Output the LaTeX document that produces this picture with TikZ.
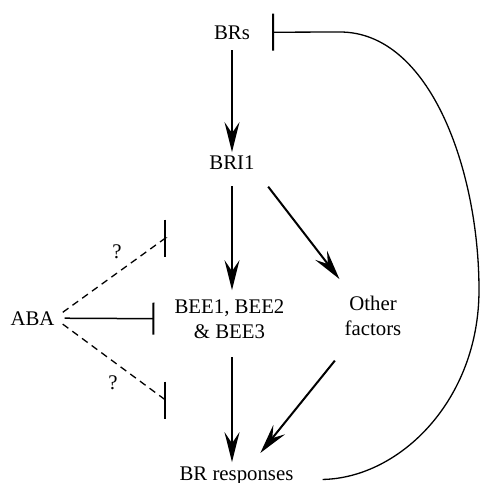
\documentclass[tikz,border=0pt]{standalone}
\usepackage{fontspec}
\setmainfont{Liberation Serif}
\usetikzlibrary{arrows.meta}

\begin{document}
\begin{tikzpicture}[x=1pt,y=-1pt]
  \tikzset{every node/.style={inner sep=0pt,font=\fontsize{20.8}{25}\selectfont},
    act/.style={line width=2pt,-{Stealth[length=30pt,width=15pt,inset=11pt]}},
    inhib/.style={line width=1.5pt,-{Bar[width=32pt,line width=2pt]}},
    maybe/.style={line width=1.3pt,dash pattern=on 7pt off 5pt,-{Bar[width=37pt,line width=2pt]}}}
  \useasboundingbox (0,0) rectangle (480,483);
  \node[anchor=base] (brs) at (232,39) {BRs};
  \node[anchor=base] (bri1) at (232,169) {BRI1};
  \node[align=center] (bee) at (229.5,318.8) {BEE1, BEE2\\\& BEE3};
  \node[align=center] (other) at (373,315.7) {Other\\factors};
  \node[anchor=base] (aba) at (32.5,325) {ABA};
  \node[anchor=base] (resp) at (236.5,480) {BR responses};
  \node (qup) at (117,252) {?};
  \node (qdown) at (113,383) {?};
  \coordinate (up) at (166,238);
  \coordinate (down) at (166,400);
  \draw[act,shorten <=11pt,shorten >=3pt] (brs) -- (bri1);
  \draw[act,shorten <=17pt,shorten >=9pt] (bri1) -- (bri1 |- bee.north);
  \draw[act,shorten <=22pt,shorten >=21pt] (bri1.south east) -- (other.136);
  \draw[act,shorten <=19pt,shorten >=4pt] (bee.south -| bri1) -- (bri1 |- resp.north);
  \draw[act,shorten <=32pt,shorten >=17pt] (other.228) -- (resp.35);
  \draw[inhib,shorten <=10pt,shorten >=20pt] (aba.east) -- (bee.west);
  \draw[maybe,shorten <=10pt] (aba.east) -- ([xshift=-0.5pt]up) -- (up);
  \draw[maybe,shorten <=10pt] (aba.east) -- ([xshift=-0.5pt]down) -- (down);
  \draw[line width=1.3pt,-{Bar[width=37pt,line width=2pt]},shorten <=29pt,shorten >=22pt]
    (resp.base east) .. controls (400,478) and (479,400) .. (479,290)
    .. controls (479,170) and (430,32) .. (340,32) -- (brs.east);
\end{tikzpicture}
\end{document}
